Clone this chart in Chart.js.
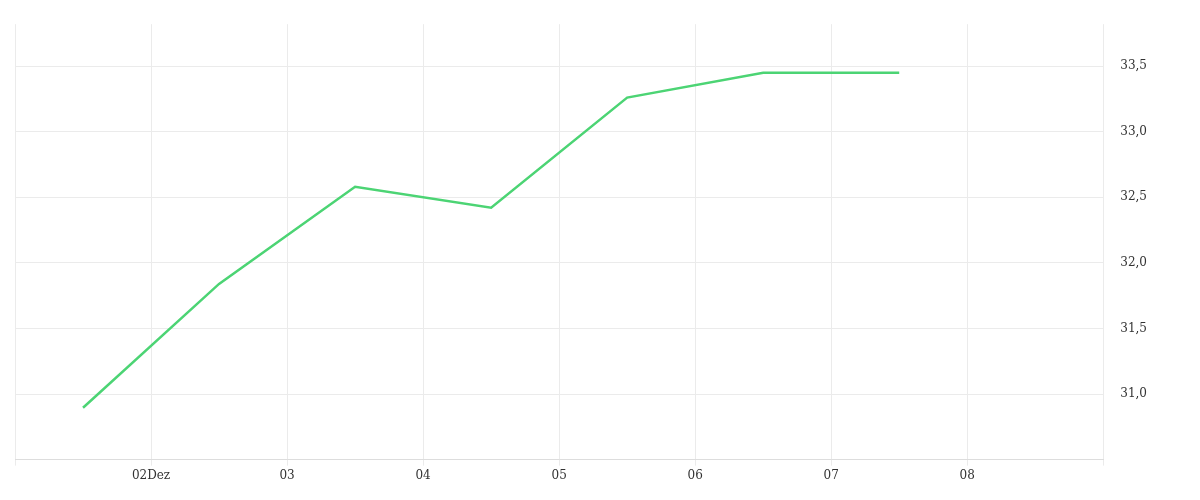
<!DOCTYPE html><html><head><script src="https://cdn.jsdelivr.net/npm/chart.js@4"></script>
<style>body{margin:0}#w{width:1200px;height:500px}</style></head><body><div id="w"><canvas id="c"></canvas></div><script>
const xPos=[0.5,1.5,2.5,3.5,4.5,5.5,6.5];
const values=[30.895,31.84,32.58,32.42,33.26,33.45,33.45];
const xLabels=["","02Dez","03","04","05","06","07","08",""];
new Chart(document.getElementById('c'),{type:'line',
data:{datasets:[{data:xPos.map((x,i)=>({x,y:values[i]})),borderColor:'#4cd474',borderWidth:2.5,pointRadius:0,tension:0}]},
options:{responsive:true,maintainAspectRatio:false,animation:false,
layout:{padding:{left:15,top:8,right:36,bottom:14}},
plugins:{legend:{display:false},tooltip:{enabled:false}},
scales:{x:{type:'linear',min:0,max:8,afterBuildTicks:a=>{a.ticks=[0,1,2,3,4,5,6,7,8].map(v=>({value:v}))},
ticks:{callback:v=>xLabels[v+0]||'',font:{family:'DejaVu Serif',size:12},color:'#333',maxRotation:0},
grid:{color:'#ebebeb',drawTicks:true,tickLength:6},border:{color:'#ddd'}},
y:{position:'right',min:30.5,max:33.82,afterBuildTicks:a=>{a.ticks=[30.5,31,31.5,32,32.5,33,33.5].map(v=>({value:v}))},
ticks:{callback:v=>v<30.9?'':v.toFixed(1).replace('.',','),font:{family:'DejaVu Serif',size:12},color:'#333',padding:17},
grid:{color:'#ebebeb',drawTicks:false},border:{display:false}}}}});
</script></body></html>
